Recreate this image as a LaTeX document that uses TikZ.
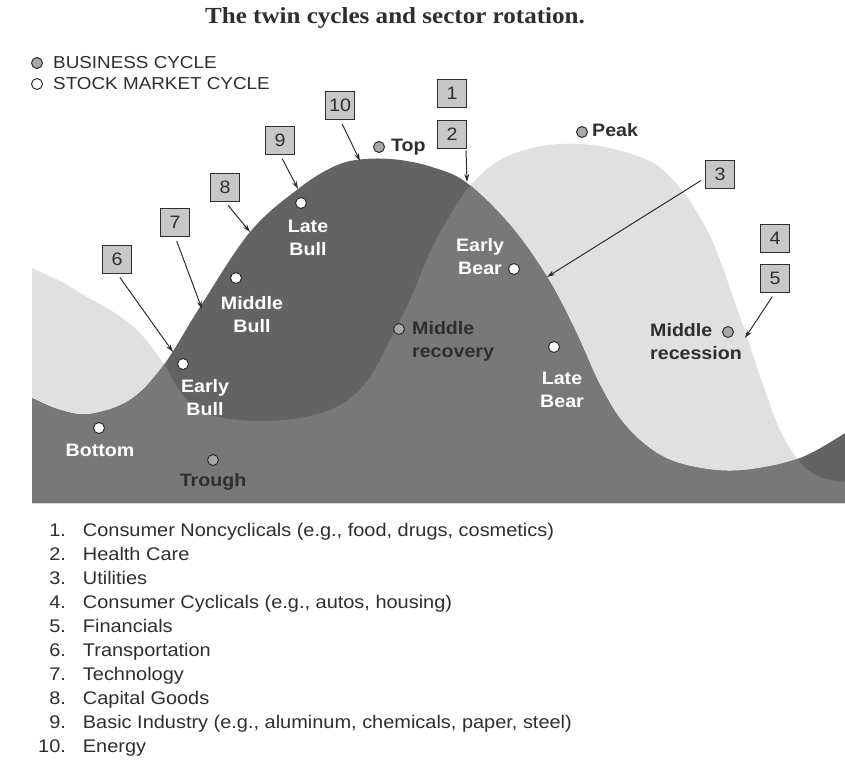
\documentclass[tikz,border=0pt]{standalone}
\usepackage{fontspec}
\setmainfont{Liberation Sans}[FakeStretch=1.09]
\newfontfamily\titlefont{Liberation Serif}[FakeStretch=1.09]
\usetikzlibrary{arrows.meta}

\definecolor{stockgray}{gray}{0.39}
\definecolor{overlapgray}{gray}{0.47}
\definecolor{busgray}{gray}{0.88}
\definecolor{boxgray}{gray}{0.78}
\definecolor{dotgray}{gray}{0.66}
\definecolor{inkgray}{gray}{0.18}

% stock market wave (leads) and business cycle wave (lags)
\newcommand{\stockline}{-- plot[smooth, tension=0.6] coordinates {(32,398) (60,410) (90,414) (130,400) (163,366) (200,307) (250,232) (298,189) (335,166) (365,159) (400,160) (435,168) (467,183) (510,225) (547,277) (575,330) (600,385) (625,425) (660,455) (700,468) (745,470) (800,458) (845,433)}}
\newcommand{\busline}{-- plot[smooth, tension=0.6] coordinates {(32,268) (60,281) (87,297) (115,313) (140,333) (163,363) (185,398) (210,415) (260,421) (310,416) (345,402) (370,377) (390,340) (410,300) (430,252) (450,215) (470,186) (495,163) (525,150) (560,144) (600,146) (640,157) (663,170) (687,197) (707,230) (720,260) (733,297) (747,337) (762,382) (780,430) (800,462) (820,477) (845,482)}}

\begin{document}
\begin{tikzpicture}[x=1pt, y=-1pt,
  numbox/.style={draw=inkgray, fill=boxgray, line width=0.9pt, minimum width=29pt, minimum height=28pt, inner sep=0pt, font=\fontsize{18}{20}\selectfont, text=inkgray},
  stockdot/.style={circle, draw=inkgray, fill=white, line width=1pt, minimum size=11pt, inner sep=0pt},
  busdot/.style={circle, draw=inkgray, fill=dotgray, line width=1pt, minimum size=11pt, inner sep=0pt},
  lightlabel/.style={text=white, font=\bfseries\fontsize{18}{23}\selectfont, align=center, inner sep=0pt},
  darklabel/.style={text=inkgray, font=\bfseries\fontsize{18}{23}\selectfont, align=left, inner sep=0pt},
  pointer/.style={draw=inkgray, line width=1pt, -{Stealth[length=8pt,width=5pt]}, shorten <=5pt}]
\useasboundingbox (0,0) rectangle (845,760);

% Waves
\fill[busgray] (32,503) \busline -- (845,503) -- cycle;
\fill[stockgray] (32,503) \stockline -- (845,503) -- cycle;
\begin{scope}
  \clip (32,503) \stockline -- (845,503) -- cycle;
  \fill[overlapgray] (32,503) \busline -- (845,503) -- cycle;
\end{scope}

% Title and legend
\node[font=\titlefont\bfseries\fontsize{23}{27}\selectfont, text=inkgray] (title) at (395,18) {The twin cycles and sector rotation.};
\node[busdot] (legbus) at (37,63) {};
\node[stockdot] (legstock) at (37,84) {};
\node[anchor=west, inner sep=0pt, text=inkgray, font=\fontsize{17.3}{20}\selectfont] (legbustext) at (53,63) {BUSINESS CYCLE};
\node[anchor=west, inner sep=0pt, text=inkgray, font=\fontsize{17.3}{20}\selectfont] (legstocktext) at (53,84) {STOCK MARKET CYCLE};

% Stock market cycle points
\node[stockdot] (bottom) at (99,428) {};
\node[lightlabel] (bottomlbl) at (100,450) {Bottom};
\node[stockdot] (earlybull) at (183,364) {};
\node[lightlabel] (earlybulllbl) at (205,398) {Early\\Bull};
\node[stockdot] (middlebull) at (236,278) {};
\node[lightlabel] (middlebulllbl) at (252,315) {Middle\\Bull};
\node[stockdot] (latebull) at (301,203) {};
\node[lightlabel] (latebulllbl) at (308,238) {Late\\Bull};
\node[stockdot] (earlybear) at (514,269) {};
\node[lightlabel] (earlybearlbl) at (480,257) {Early\\Bear};
\node[stockdot] (latebear) at (554,347) {};
\node[lightlabel] (latebearlbl) at (562,390) {Late\\Bear};

% Business cycle points
\node[busdot] (trough) at (213,460) {};
\node[darklabel] (troughlbl) at (213,482) {Trough};
\node[busdot] (midrec) at (399,329) {};
\node[darklabel, anchor=west] (midreclbl) at (412,341) {Middle\\recovery};
\node[busdot] (top) at (379,147) {};
\node[darklabel, anchor=west] (toplbl) at (391,147) {Top};
\node[busdot] (peak) at (582,132) {};
\node[darklabel, anchor=west] (peaklbl) at (592,130) {Peak};
\node[busdot] (midrecess) at (728,332) {};
\node[darklabel, anchor=west] (midrecesslbl) at (650,342) {Middle\\recession};

% Sector boxes
\node[numbox] (n1) at (452,93) {1};
\node[numbox] (n2) at (452,134) {2};
\node[numbox] (n3) at (720,174) {3};
\node[numbox] (n4) at (775,238) {4};
\node[numbox] (n5) at (775,278) {5};
\node[numbox] (n6) at (117,259) {6};
\node[numbox] (n7) at (175,222) {7};
\node[numbox] (n8) at (225,187) {8};
\node[numbox] (n9) at (280,140) {9};
\node[numbox] (n10) at (340,105) {10};

% Arrow tips on the curves
\coordinate (t2) at (467,182);
\coordinate (t3) at (547,277);
\coordinate (t5) at (745,338);
\coordinate (t6) at (173,352);
\coordinate (t7) at (202,309);
\coordinate (t8) at (250,232);
\coordinate (t9) at (298,189);
\coordinate (t10) at (360,161);

% Arrows
\draw[pointer, shorten <=2pt] ([xshift=-1pt]n2.south east) -- (t2);
\draw[pointer] ([yshift=-4pt]n3.west) -- (t3);
\draw[pointer] (n5.south) -- (t5);
\draw[pointer] (n6.south) -- (t6);
\draw[pointer] (n7.south) -- (t7);
\draw[pointer] (n8.south) -- (t8);
\draw[pointer] (n9.south) -- (t9);
\draw[pointer] (n10.south) -- (t10);

% Sector list
\node[anchor=north west, inner sep=0pt, text=inkgray, font=\fontsize{18.3}{23.9}\selectfont] (sectors) at (38,520) {%
\begin{tabular}{@{}r@{\hspace{17pt}}l@{}}
1. & Consumer Noncyclicals (e.g., food, drugs, cosmetics)\\
2. & Health Care\\
3. & Utilities\\
4. & Consumer Cyclicals (e.g., autos, housing)\\
5. & Financials\\
6. & Transportation\\
7. & Technology\\
8. & Capital Goods\\
9. & Basic Industry (e.g., aluminum, chemicals, paper, steel)\\
10. & Energy
\end{tabular}};
\end{tikzpicture}
\end{document}
